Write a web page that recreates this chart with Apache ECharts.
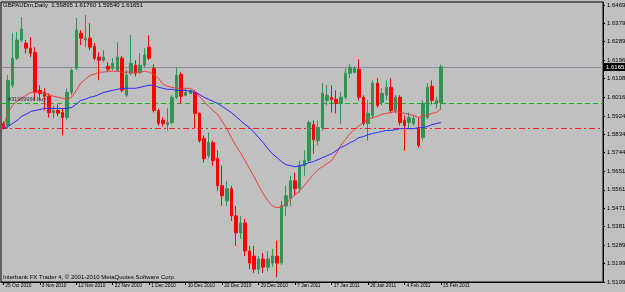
<!DOCTYPE html>
<html><head><meta charset="utf-8">
<script src="https://cdn.jsdelivr.net/npm/echarts@6/dist/echarts.min.js"></script>
<style>html,body{margin:0;padding:0;background:#c0c0c0;}#c{width:625px;height:292px;}</style>
</head><body><div id="c"></div>
<script>
const dates = ['25 Oct 2010','26 Oct 2010','27 Oct 2010','28 Oct 2010','29 Oct 2010','31 Oct 2010',
'1 Nov 2010','2 Nov 2010','3 Nov 2010','4 Nov 2010','5 Nov 2010','7 Nov 2010','8 Nov 2010','9 Nov 2010','10 Nov 2010','11 Nov 2010','12 Nov 2010',
'14 Nov 2010','15 Nov 2010','16 Nov 2010','17 Nov 2010','18 Nov 2010','19 Nov 2010','21 Nov 2010','22 Nov 2010',
'23 Nov 2010','24 Nov 2010','25 Nov 2010','26 Nov 2010','28 Nov 2010','29 Nov 2010','30 Nov 2010','1 Dec 2010',
'2 Dec 2010','3 Dec 2010','5 Dec 2010','6 Dec 2010','7 Dec 2010','8 Dec 2010','9 Dec 2010','10 Dec 2010',
'12 Dec 2010','13 Dec 2010','14 Dec 2010','15 Dec 2010','16 Dec 2010','17 Dec 2010','19 Dec 2010','20 Dec 2010',
'21 Dec 2010','22 Dec 2010','23 Dec 2010','24 Dec 2010','26 Dec 2010','27 Dec 2010','28 Dec 2010','29 Dec 2010',
'30 Dec 2010','31 Dec 2010','2 Jan 2011','3 Jan 2011','4 Jan 2011','5 Jan 2011','6 Jan 2011','7 Jan 2011',
'9 Jan 2011','10 Jan 2011','11 Jan 2011','12 Jan 2011','13 Jan 2011','14 Jan 2011','16 Jan 2011','17 Jan 2011',
'18 Jan 2011','19 Jan 2011','20 Jan 2011','21 Jan 2011','23 Jan 2011','24 Jan 2011','25 Jan 2011','26 Jan 2011',
'27 Jan 2011','28 Jan 2011','30 Jan 2011','31 Jan 2011','1 Feb 2011','2 Feb 2011','3 Feb 2011','4 Feb 2011',
'6 Feb 2011','7 Feb 2011','8 Feb 2011','9 Feb 2011','10 Feb 2011','11 Feb 2011','14 Feb 2011','15 Feb 2011'];

const open = [1.5887,1.5877,1.6075,1.6208,1.6297,1.6282,1.6257,1.6237,1.6050,1.6040,
1.6021,1.5941,1.5951,1.5941,1.5917,1.6040,1.6158,1.6331,1.6297,1.6306,
1.6267,1.6213,1.6198,1.6168,1.6158,1.6149,1.6208,1.6026,1.6134,1.6173,
1.6139,1.6173,1.6262,1.6158,1.5951,1.5902,1.5882,1.5892,1.6016,1.6129,
1.6026,1.6035,1.6040,1.5937,1.5813,1.5729,1.5793,1.5715,1.5582,1.5508,
1.5567,1.5434,1.5350,1.5399,1.5261,1.5236,1.5172,1.5222,1.5182,1.5202,
1.5236,1.5202,1.5483,1.5518,1.5606,1.5567,1.5680,1.5705,1.5882,1.5803,
1.5867,1.6001,1.6016,1.6006,1.5986,1.6016,1.6134,1.6139,1.6154,1.6016,
1.5887,1.5927,1.6085,1.5991,1.6026,1.6065,1.5951,1.6016,1.5902,1.5892,
1.5887,1.5862,1.5818,1.5917,1.6070,1.5986,1.59895];
const close = [1.5867,1.6099,1.6208,1.6297,1.6351,1.6257,1.6232,1.6040,1.6035,1.6021,
1.5941,1.5951,1.5937,1.5917,1.6040,1.6149,1.6346,1.6306,1.6306,1.6262,
1.6208,1.6198,1.6213,1.6154,1.6183,1.6213,1.6050,1.6124,1.6183,1.6134,
1.6173,1.6223,1.6208,1.5951,1.5887,1.5887,1.5892,1.6016,1.6124,1.6021,
1.6040,1.6050,1.5937,1.5803,1.5715,1.5793,1.5705,1.5582,1.5532,1.5567,
1.5434,1.5350,1.5399,1.5261,1.5202,1.5172,1.5222,1.5182,1.5222,1.5236,
1.5202,1.5483,1.5532,1.5606,1.5567,1.5680,1.5705,1.5892,1.5808,1.5867,
1.6035,1.6026,1.6006,1.5986,1.6016,1.6134,1.6163,1.6158,1.6016,1.5887,
1.5937,1.6085,1.5976,1.6035,1.6065,1.5951,1.6016,1.5892,1.5877,1.5917,
1.5912,1.5779,1.5986,1.6065,1.6001,1.6001,1.61651];
const low = [1.5857,1.5862,1.6060,1.6198,1.6287,1.6232,1.6213,1.6001,1.6001,1.5951,
1.5917,1.5912,1.5922,1.5828,1.5902,1.6026,1.6149,1.6272,1.6262,1.6247,
1.6198,1.6099,1.6188,1.6139,1.6149,1.6139,1.6040,1.6016,1.6124,1.6119,
1.6129,1.6163,1.6198,1.5941,1.5877,1.5872,1.5853,1.5882,1.6006,1.5986,
1.6021,1.6030,1.5862,1.5793,1.5695,1.5715,1.5680,1.5557,1.5483,1.5483,
1.5409,1.5286,1.5320,1.5236,1.5172,1.5153,1.5148,1.5153,1.5162,1.5182,
1.5133,1.5192,1.5434,1.5483,1.5532,1.5547,1.5631,1.5695,1.5739,1.5779,
1.5853,1.5976,1.5941,1.5937,1.5887,1.6006,1.6109,1.6134,1.6001,1.5877,
1.5803,1.5912,1.5966,1.5976,1.6001,1.5937,1.5937,1.5877,1.5754,1.5862,
1.5877,1.5769,1.5803,1.5907,1.5981,1.5961,1.59540];
const high = [1.5897,1.6124,1.6331,1.6336,1.6410,1.6297,1.6311,1.6262,1.6075,1.6060,
1.6035,1.5976,1.5981,1.5961,1.6060,1.6158,1.6405,1.6346,1.6420,1.6380,
1.6282,1.6237,1.6247,1.6188,1.6208,1.6287,1.6218,1.6149,1.6321,1.6198,
1.6232,1.6257,1.6321,1.6178,1.5961,1.5917,1.5961,1.6026,1.6163,1.6139,
1.6060,1.6055,1.6050,1.5941,1.5828,1.5843,1.5803,1.5754,1.5680,1.5606,
1.5582,1.5483,1.5434,1.5419,1.5286,1.5286,1.5236,1.5251,1.5261,1.5271,
1.5311,1.5508,1.5582,1.5631,1.5646,1.5705,1.5754,1.5902,1.5902,1.5902,
1.6085,1.6075,1.6075,1.6050,1.6040,1.6158,1.6178,1.6168,1.6203,1.6026,
1.6001,1.6099,1.6109,1.6060,1.6099,1.6109,1.6026,1.6026,1.5927,1.5941,
1.5927,1.5917,1.6001,1.6085,1.6099,1.6016,1.61760];

const maFast = [1.5872,1.5937,1.5976,1.5996,1.6011,1.6026,1.6040,1.6040,1.6040,1.6035,
1.6030,1.6021,1.6016,1.6011,1.6006,1.6016,1.6050,1.6085,1.6104,1.6124,
1.6129,1.6139,1.6139,1.6144,1.6144,1.6144,1.6139,1.6139,1.6139,1.6139,
1.6139,1.6144,1.6139,1.6129,1.6109,1.6080,1.6070,1.6065,1.6060,1.6060,
1.6060,1.6060,1.6045,1.6021,1.5996,1.5971,1.5951,1.5932,1.5897,1.5862,
1.5818,1.5779,1.5744,1.5705,1.5665,1.5626,1.5582,1.5542,1.5508,1.5483,
1.5473,1.5478,1.5493,1.5518,1.5537,1.5557,1.5582,1.5611,1.5636,1.5661,
1.5675,1.5690,1.5705,1.5739,1.5779,1.5808,1.5838,1.5857,1.5877,1.5892,
1.5907,1.5917,1.5922,1.5932,1.5937,1.5941,1.5946,1.5941,1.5937,1.5932,
1.5927,1.5917,1.5922,1.5927,1.5937,1.5941,1.5961];
const maSlow = [1.5862,1.5872,1.5887,1.5902,1.5922,1.5932,1.5946,1.5951,1.5956,1.5961,
1.5961,1.5961,1.5961,1.5961,1.5961,1.5966,1.5981,1.6001,1.6006,1.6016,
1.6021,1.6030,1.6040,1.6045,1.6050,1.6055,1.6060,1.6060,1.6060,1.6060,
1.6065,1.6070,1.6075,1.6075,1.6065,1.6060,1.6055,1.6055,1.6050,1.6050,
1.6050,1.6045,1.6040,1.6030,1.6016,1.6006,1.5996,1.5986,1.5971,1.5956,
1.5941,1.5922,1.5902,1.5882,1.5867,1.5843,1.5818,1.5793,1.5764,1.5739,
1.5720,1.5700,1.5685,1.5680,1.5675,1.5680,1.5685,1.5695,1.5700,1.5710,
1.5720,1.5729,1.5739,1.5754,1.5769,1.5779,1.5793,1.5803,1.5818,1.5823,
1.5833,1.5838,1.5843,1.5848,1.5853,1.5853,1.5857,1.5862,1.5862,1.5862,
1.5862,1.5867,1.5867,1.5872,1.5882,1.5887,1.5892];

const priceTicks = [1.64690,1.63790,1.62890,1.61965,1.61085,1.60165,1.59240,1.58340,
1.57440,1.56515,1.55615,1.54715,1.53815,1.52890,1.51990,1.51090];
const lastPrice = 1.61651;
const orderPrice = 1.59865;
const stopPrice = 1.58630;
const orderText = '#31969966 buy';
const symbolText = 'GBPAUDm,Daily';
const footerText = 'Interbank FX Trader 4, \u00a9 2001-2010 MetaQuotes Software Corp.';

const SLOTS = 132;
const cats = dates.concat(new Array(SLOTS - dates.length).fill(''));
const candles = dates.map((d, i) => [open[i], close[i], low[i], high[i]]);
const n = dates.length - 1;
const FONT = 'Liberation Sans';
const GRID = {left: 1, right: 22, top: 2, bottom: 10};

const chart = echarts.init(document.getElementById('c'), null, {renderer: 'canvas'});
chart.setOption({
  animation: false,
  backgroundColor: '#c0c0c0',
  textStyle: {fontFamily: FONT},
  title: [
    {text: symbolText + '  ' + open[n].toFixed(5) + ' ' + high[n].toFixed(5) + ' ' + low[n].toFixed(5) + ' ' + close[n].toFixed(5),
     left: 3, top: 2, padding: 0, textStyle: {fontSize: 6, fontWeight: 'normal', color: '#000', fontFamily: FONT}},
    {text: footerText, left: 3, top: 274, padding: 0,
     textStyle: {fontSize: 6, fontWeight: 'normal', color: '#000', fontFamily: FONT}}
  ],
  grid: Object.assign({show: true, borderColor: '#000', borderWidth: 1, backgroundColor: 'transparent'}, GRID),
  xAxis: {
    type: 'category', data: cats, boundaryGap: true,
    axisLine: {show: true, onZero: false, lineStyle: {color: '#000'}},
    axisTick: {show: true, alignWithLabel: true, length: 3, lineStyle: {color: '#000'},
      interval: (i, v) => i % 8 === 0 && v !== ''},
    axisLabel: {show: true, interval: (i, v) => i % 8 === 0 && v !== '', align: 'left', margin: 1,
      fontSize: 4.8, color: '#000', fontFamily: FONT, padding: [0, 0, 0, 2], hideOverlap: false},
    splitLine: {show: false}
  },
  yAxis: {
    type: 'value', position: 'right', min: 1.5109, max: 1.64837, scale: true,
    axisLine: {show: true, lineStyle: {color: '#000'}},
    axisTick: {show: true, length: 2, customValues: priceTicks, lineStyle: {color: '#000'}},
    axisLabel: {show: false},
    splitLine: {show: false}
  },
  series: [
    {
      type: 'candlestick', data: candles, barWidth: 3, z: 3,
      itemStyle: {color: '#2f9454', color0: '#ff0000', borderColor: '#2f9454', borderColor0: '#ff0000', borderWidth: 1}
    },
    {type: 'line', data: maFast, symbol: 'none', lineStyle: {color: '#f03c3c', width: 1}, z: 4},
    {type: 'line', data: maSlow, symbol: 'none', lineStyle: {color: '#2828ff', width: 1}, z: 4}
  ]
});

// price levels and price-axis labels, placed with the chart's own y scale
const W = 625, H = 292;
const x0 = GRID.left, x1 = W - GRID.right;
const yOf = p => chart.convertToPixel({gridIndex: 0}, [0, p])[1];
const g = [];
priceTicks.forEach(p => {
  g.push({type: 'text', x: x1 + 4, y: yOf(p), z: 10,
    style: {text: p.toFixed(5), fill: '#000', font: '6px "Liberation Sans"', textVerticalAlign: 'middle'}});
});
function level(p, color, dash) {
  const y = Math.round(yOf(p)) + 0.5;
  g.push({type: 'line', z: 1, shape: {x1: x0, y1: y, x2: x1, y2: y},
    style: {stroke: color, lineWidth: 1, lineDash: dash}});
  return y;
}
const yLast = level(lastPrice, '#8a8fa0', null);
const yOrder = level(orderPrice, '#19b419', [5, 3]);
level(stopPrice, '#ff1e1e', [6, 3, 2, 3]);
g.push({type: 'rect', z: 11, shape: {x: x1 + 1, y: yLast - 4.5, width: 24, height: 8}, style: {fill: '#000'}});
g.push({type: 'text', z: 12, x: x1 + 3, y: yLast,
  style: {text: lastPrice.toFixed(5), fill: '#fff', font: '6px "Liberation Sans"', textVerticalAlign: 'middle'}});
g.push({type: 'text', z: 12, x: x0 + 7, y: yOrder - 1.5,
  style: {text: orderText, fill: '#333', font: '5.5px "Liberation Sans"', textVerticalAlign: 'bottom'}});
chart.setOption({graphic: {elements: g}});
</script>
</body></html>
